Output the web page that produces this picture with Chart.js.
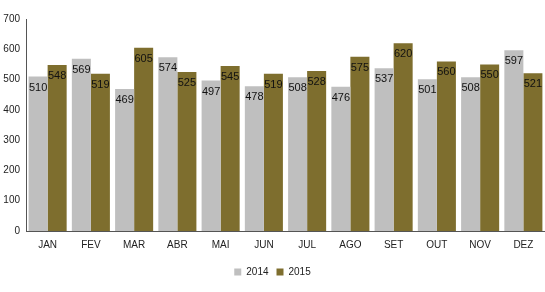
<!DOCTYPE html>
<html>
<head>
<meta charset="utf-8">
<script src="https://cdn.jsdelivr.net/npm/chart.js@4"></script>
<style>
  html, body { margin: 0; padding: 0; background: #fff; }
  #wrap { width: 545px; height: 292px; }
</style>
</head>
<body>
<div id="wrap"><canvas id="myChart"></canvas></div>
<script>
var months = ['JAN', 'FEV', 'MAR', 'ABR', 'MAI', 'JUN', 'JUL', 'AGO', 'SET', 'OUT', 'NOV', 'DEZ']
var v2014 = [510, 569, 469, 574, 497, 478, 508, 476, 537, 501, 508, 597]
var v2015 = [548, 519, 605, 525, 545, 519, 528, 575, 620, 560, 550, 521]

var FONT = "'Liberation Sans Narrow', 'Liberation Sans', sans-serif"

// values written inside the top of each bar
var barLabels = {
    id: 'barLabels',
    afterDatasetsDraw(chart) {
        var ctx = chart.ctx
        ctx.save()
        ctx.font = '11px ' + FONT
        ctx.fillStyle = '#111'
        ctx.textAlign = 'center'
        ctx.textBaseline = 'middle'
        chart.data.datasets.forEach(function (ds, i) {
            chart.getDatasetMeta(i).data.forEach(function (bar, j) {
                ctx.fillText(ds.data[j], bar.x, bar.y + 11)
            })
        })
        ctx.restore()
    }
}

var ctx = document.getElementById('myChart').getContext('2d')
var chart = new Chart(ctx, {
    type: 'bar',
    data: {
        labels: months,
        datasets: [{
            label: '2014',
            backgroundColor: '#bfbfbf',
            data: v2014
        },
        {
            label: '2015',
            backgroundColor: '#7e6e2e',
            data: v2015
        }]
    },
    options: {
        responsive: true,
        maintainAspectRatio: false,
        animation: false,
        layout: { padding: { top: 19, right: 0, bottom: 5, left: 0 } },
        datasets: { bar: { categoryPercentage: 0.88, barPercentage: 1 } },
        scales: {
            x: {
                grid: { display: false, drawTicks: false },
                border: { color: '#555', width: 1 },
                ticks: { color: '#222', font: { family: FONT, size: 10 }, padding: 8 }
            },
            y: {
                min: 0,
                max: 700,
                grid: { display: false, drawTicks: false },
                border: { color: '#555', width: 1 },
                ticks: { stepSize: 100, color: '#222', font: { family: FONT, size: 10 }, padding: 6 },
                afterFit: function (s) { s.width = 26 }
            }
        },
        plugins: {
            legend: {
                position: 'bottom',
                labels: {
                    boxWidth: 7,
                    boxHeight: 7,
                    padding: 8,
                    color: '#222',
                    font: { family: FONT, size: 10 }
                }
            },
            tooltip: { enabled: false }
        }
    },
    plugins: [barLabels]
})
</script>
</body>
</html>
